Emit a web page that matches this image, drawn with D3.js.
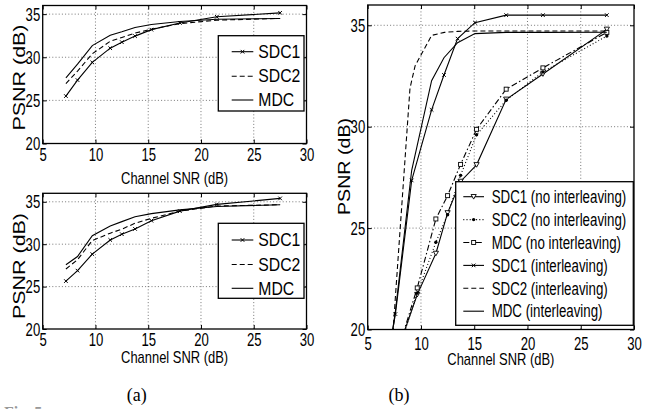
<!DOCTYPE html>
<html>
<head>
<meta charset="utf-8">
<script src="https://d3js.org/d3.v7.min.js"></script>
<style>
  body { margin: 0; background: #fff; }
  svg { display: block; }
</style>
</head>
<body>
<svg id="fig" width="650" height="409"></svg>
<script>
// ---- data ----
var snrA = [7.2, 8.3, 9.7, 11.4, 12.5, 13.75, 15.3, 18, 21.5, 27.5];
var topSDC1 = [25.5, 27.35, 29.4, 31.05, 31.75, 32.45, 33.2, 33.98, 34.69, 35.15];
var topSDC2 = [26.95, 28.4, 30.4, 31.85, 32.3, 32.8, 33.25, 33.9, 34.3, 34.5];
var topMDC  = [27.6, 29.2, 31.35, 32.55, 32.95, 33.45, 33.8, 34.15, 34.4, 34.5];

var botSDC1 = [25.65, 26.88, 28.83, 30.5, 31.18, 31.8, 32.77, 33.9, 34.69, 35.4];
var botSDC2 = [27.07, 28.17, 30.43, 31.3, 31.77, 32.47, 33.05, 33.9, 34.5, 34.65];
var botMDC  = [27.58, 28.55, 31.0, 32.15, 32.66, 33.24, 33.6, 34.05, 34.45, 34.65];

var snrNoIntl  = [8.3, 9.65, 11.4, 12.5, 13.72, 15.22, 18, 21.45, 27.45];
var sdc1NoIntl = [19.7, 21.72, 23.75, 25.75, 27.3, 28.12, 31.35, 32.6, 34.8];
var sdc2NoIntl = [19.6, 21.8, 24.3, 25.66, 27.6, 29.6, 31.3, 32.7, 34.47];
var mdcNoIntl  = [19.75, 22.05, 25.45, 26.6, 28.14, 29.87, 31.85, 32.9, 34.65];

var snrIntl  = [6.1, 7.6, 9.13, 11.0, 12.16, 13.44, 15.07, 18, 21.45, 27.45];
var sdc1Intl = [16.2, 20.76, 27.35, 30.83, 32.55, 34.34, 35.13, 35.5, 35.5, 35.5];
var mdcIntl  = [15.5, 20.9, 27.85, 32.27, 33.4, 34.14, 34.59, 34.65, 34.65, 34.66];
var snrIntl2 = [6.1, 7.6, 8.97, 9.45, 11.0, 12.2, 13.45, 15.07, 18, 21.45, 27.45];
var sdc2Intl = [9.6, 21.6, 31.9, 33.0, 34.5, 34.65, 34.7, 34.72, 34.72, 34.72, 34.72];

var xTicks = [5, 10, 15, 20, 25, 30];
var yTicks = [20, 25, 30, 35];
var namesA = ["SDC1", "SDC2", "MDC"];
var namesB = ["SDC1 (no interleaving)", "SDC2 (no interleaving)", "MDC (no interleaving)",
              "SDC1 (interleaving)", "SDC2 (interleaving)", "MDC (interleaving)"];

var font = "'Liberation Sans', Arial, Helvetica, sans-serif";
var svg = d3.select("#fig");
svg.append("rect").attr("width", 650).attr("height", 409).attr("fill", "#fff");

var dashes = { solid: null, dashed: "5,3", dotted: "1,2.2", dashdot: "6,2.5,1.5,2.5" };

// squeeze text horizontally like the condensed original
function squeeze(sel, k, len) {
  sel.each(function () {
    var w = len != null ? len : this.getComputedTextLength() * k;
    this.setAttribute("textLength", w);
    this.setAttribute("lengthAdjust", "spacingAndGlyphs");
  });
}

function marker(g, type, cx, cy) {
  if (type == "x") {
    g.append("path").attr("d", "M" + (cx - 1.8) + "," + (cy - 1.8) + "l3.6,3.6m-3.6,0l3.6,-3.6")
      .attr("stroke", "#000").attr("stroke-width", 1).attr("fill", "none");
  } else if (type == "tri") {
    g.append("path").attr("d", "M" + (cx - 2.6) + "," + (cy - 2.2) + "h5.2l-2.6,4.6z")
      .attr("stroke", "#000").attr("stroke-width", 0.9).attr("fill", "#fff");
  } else if (type == "dot") {
    g.append("circle").attr("cx", cx).attr("cy", cy).attr("r", 1.7).attr("fill", "#000");
  } else if (type == "sq") {
    g.append("rect").attr("x", cx - 2).attr("y", cy - 2).attr("width", 4).attr("height", 4)
      .attr("stroke", "#000").attr("stroke-width", 0.9).attr("fill", "#fff");
  }
}

var clipId = 0;
function panel(p) {
  var x = d3.scaleLinear().domain([5, 30]).range([p.x0, p.x1]);
  var y = d3.scaleLinear().domain([20, 36]).range([p.y1, p.y0]);
  var g = svg.append("g");

  // grid
  g.selectAll(".gx").data(xTicks.slice(1, -1)).enter().append("line")
    .attr("x1", function (d) { return x(d); }).attr("x2", function (d) { return x(d); })
    .attr("y1", p.y0).attr("y2", p.y1)
    .attr("stroke", "#555").attr("stroke-width", 0.8).attr("stroke-dasharray", "1,2.2");
  g.selectAll(".gy").data(yTicks.slice(1)).enter().append("line")
    .attr("y1", function (d) { return y(d); }).attr("y2", function (d) { return y(d); })
    .attr("x1", p.x0).attr("x2", p.x1)
    .attr("stroke", "#555").attr("stroke-width", 0.8).attr("stroke-dasharray", "1,2.2");

  // axes, ticks inward on all sides
  var ax = [
    g.append("g").attr("transform", "translate(0," + p.y1 + ")")
      .call(d3.axisBottom(x).tickValues(xTicks).tickSize(-4).tickPadding(p.xPad)),
    g.append("g").attr("transform", "translate(" + p.x0 + ",0)")
      .call(d3.axisLeft(y).tickValues(yTicks).tickSize(-4).tickPadding(2.5)),
    g.append("g").attr("transform", "translate(0," + p.y0 + ")")
      .call(d3.axisTop(x).tickValues(xTicks).tickSize(-4).tickFormat("")),
    g.append("g").attr("transform", "translate(" + p.x1 + ",0)")
      .call(d3.axisRight(y).tickValues(yTicks).tickSize(-4).tickFormat(""))
  ];
  ax.forEach(function (a) {
    a.attr("font-size", null);
    a.select(".domain").remove();
    a.selectAll(".tick line").attr("stroke", "#000").attr("stroke-width", 1);
    a.selectAll("text").attr("font-family", font).attr("font-size", 19).attr("fill", "#000");
  });
  squeeze(ax[0].selectAll("text"), 0.69);
  squeeze(ax[1].selectAll("text"), 0.69);

  // series, clipped to the axes box
  var cid = "clip" + (clipId++);
  svg.append("clipPath").attr("id", cid).append("rect")
    .attr("x", p.x0).attr("y", p.y0).attr("width", p.x1 - p.x0).attr("height", p.y1 - p.y0);
  var sg = g.append("g").attr("clip-path", "url(#" + cid + ")");
  var line = d3.line().x(function (d) { return x(d[0]); }).y(function (d) { return y(d[1]); });
  p.series.forEach(function (s) {
    var pts = d3.zip(s.x, s.y);
    sg.append("path").attr("d", line(pts)).attr("fill", "none").attr("stroke", "#000")
      .attr("stroke-width", 1.1).attr("stroke-dasharray", dashes[s.dash]);
    if (s.mark) pts.forEach(function (d) {
      if (d[1] >= 20) marker(sg, s.mark, x(d[0]), y(d[1]));
    });
  });

  // box
  g.append("rect").attr("x", p.x0).attr("y", p.y0)
    .attr("width", p.x1 - p.x0).attr("height", p.y1 - p.y0)
    .attr("fill", "none").attr("stroke", "#000").attr("stroke-width", 1.3);

  // axis labels
  var xl = g.append("text").attr("x", (p.x0 + p.x1) / 2).attr("y", p.xlabY)
    .attr("text-anchor", "middle").attr("font-family", font).attr("font-size", 17)
    .text("Channel SNR (dB)");
  squeeze(xl, 0, 107);
  var yl = g.append("text")
    .attr("transform", "translate(" + p.ylab[0] + "," + p.ylab[1] + ") rotate(-90)")
    .attr("text-anchor", "middle").attr("font-family", font).attr("font-size", 16)
    .text("PSNR (dB)");
  squeeze(yl, 0, p.ylab[2]);

  // legend
  var L = p.legend;
  g.append("rect").attr("x", L.x0).attr("y", L.y0).attr("width", L.x1 - L.x0).attr("height", L.y1 - L.y0)
    .attr("fill", "#fff").attr("stroke", "#000").attr("stroke-width", 1.3);
  p.series.forEach(function (s, i) {
    var ry = L.rows[i];
    g.append("line").attr("x1", L.lx0).attr("x2", L.lx1).attr("y1", ry).attr("y2", ry)
      .attr("stroke", "#000").attr("stroke-width", 1.1).attr("stroke-dasharray", dashes[s.dash]);
    if (s.mark) marker(g, s.mark, (L.lx0 + L.lx1) / 2, ry);
    var t = g.append("text").attr("x", L.tx).attr("y", ry + 6.2)
      .attr("font-family", font).attr("font-size", L.fs).text(L.names[i]);
    squeeze(t, L.k);
  });
}

panel({
  x0: 42.7, x1: 306.5, y0: 5.5, y1: 143.5, xPad: 4.5, xlabY: 183.5, ylab: [25, 77.5, 106],
  series: [
    { x: snrA, y: topSDC1, dash: "solid", mark: "x" },
    { x: snrA, y: topSDC2, dash: "dashed" },
    { x: snrA, y: topMDC, dash: "solid" }
  ],
  legend: { x0: 218.3, x1: 304, y0: 35.7, y1: 111, rows: [51.7, 76.2, 100],
            lx0: 231.7, lx1: 253.3, tx: 258.3, k: 0.9, fs: 17.5, names: namesA }
});

panel({
  x0: 42.7, x1: 306.5, y0: 193.3, y1: 329, xPad: 3.5, xlabY: 362.7, ylab: [25, 266, 106],
  series: [
    { x: snrA, y: botSDC1, dash: "solid", mark: "x" },
    { x: snrA, y: botSDC2, dash: "dashed" },
    { x: snrA, y: botMDC, dash: "solid" }
  ],
  legend: { x0: 218.3, x1: 304, y0: 223.3, y1: 298.3, rows: [240, 264.5, 288.3],
            lx0: 231.7, lx1: 253.3, tx: 258.3, k: 0.9, fs: 17.5, names: namesA }
});

panel({
  x0: 367.7, x1: 634, y0: 5, y1: 329.5, xPad: 7, xlabY: 365, ylab: [349.5, 166.5, 97],
  series: [
    { x: snrNoIntl, y: sdc1NoIntl, dash: "solid", mark: "tri" },
    { x: snrNoIntl, y: sdc2NoIntl, dash: "dotted", mark: "dot" },
    { x: snrNoIntl, y: mdcNoIntl, dash: "dashdot", mark: "sq" },
    { x: snrIntl, y: sdc1Intl, dash: "solid", mark: "x" },
    { x: snrIntl2, y: sdc2Intl, dash: "dashed" },
    { x: snrIntl, y: mdcIntl, dash: "solid" }
  ],
  legend: { x0: 455.7, x1: 633.3, y0: 181.7, y1: 325.3,
            rows: [196.7, 219.6, 242.5, 265.4, 288.3, 311.2],
            lx0: 463.3, lx1: 484, tx: 491.7, k: 0.76, fs: 17.5, names: namesB }
});

// sub-figure captions
svg.append("text").attr("x", 136.7).attr("y", 401).attr("text-anchor", "middle")
  .attr("font-family", "'Liberation Serif', 'Times New Roman', serif").attr("font-size", 18).text("(a)");
svg.append("text").attr("x", 399).attr("y", 401).attr("text-anchor", "middle")
  .attr("font-family", "'Liberation Serif', 'Times New Roman', serif").attr("font-size", 18).text("(b)");

// figure caption, cut off by the bottom edge
svg.append("text").attr("x", 4).attr("y", 418)
  .attr("font-family", "'Liberation Serif', 'Times New Roman', serif").attr("font-size", 16)
  .attr("fill", "#999").attr("font-weight", "bold").text("Fig. 5.");
</script>
</body>
</html>
